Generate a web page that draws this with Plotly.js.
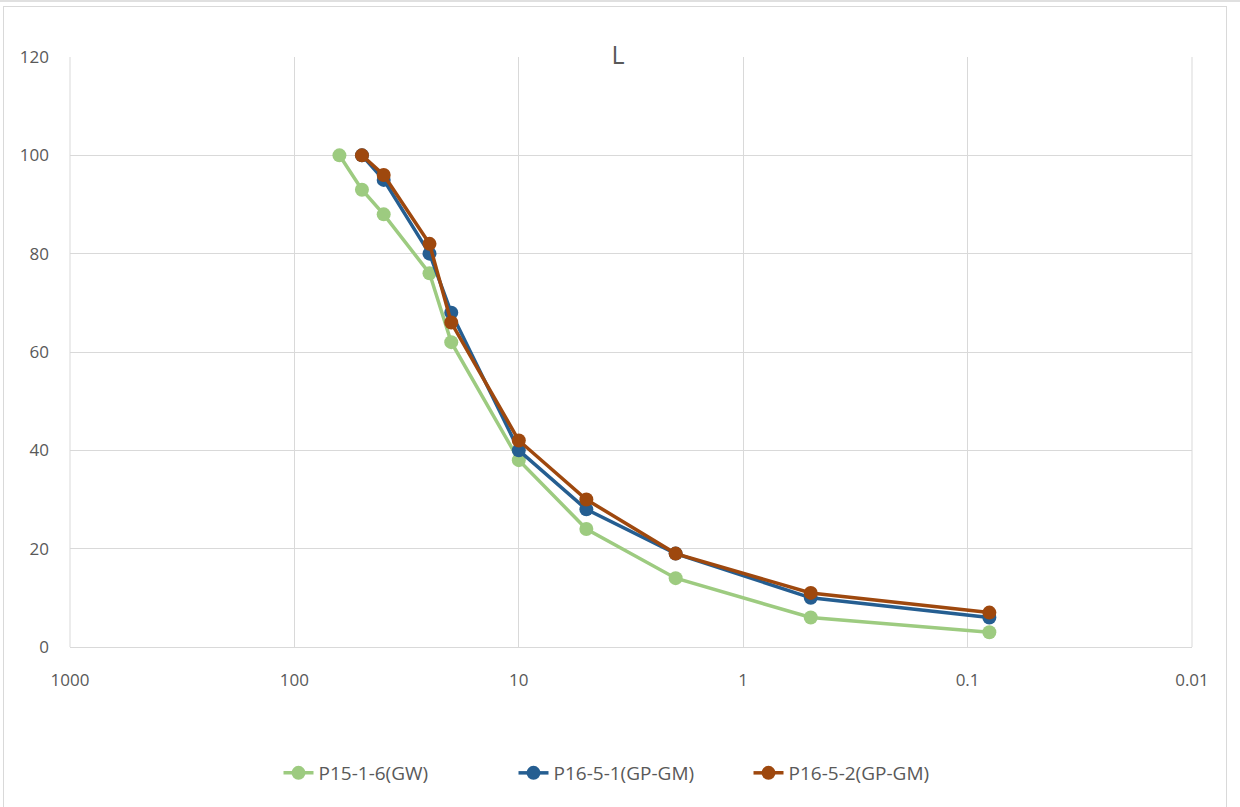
<!DOCTYPE html>
<html>
<head>
<meta charset="utf-8">
<script src="https://cdn.plot.ly/plotly-3.0.1.min.js"></script>
<style>
html,body{margin:0;padding:0;background:#fff;}
#frame{position:absolute;left:3px;top:6px;width:1224px;height:820px;border:1px solid #d9d9d9;box-sizing:border-box;}
#topbar{position:absolute;left:0;top:0;width:1240px;height:2px;background:#e0e0e0;}
#chart{position:absolute;left:0;top:0;width:1240px;height:807px;}
</style>
</head>
<body>
<div id="topbar"></div>
<div id="frame"></div>
<div id="chart"></div>
<script>
// Sieve sizes (mm) and percent passing
const sizesGW = [63, 50, 40, 25, 20, 10, 5, 2, 0.5, 0.08];
const passGW = [100, 93, 88, 76, 62, 38, 24, 14, 6, 3];
const sizesGP = [50, 40, 25, 20, 10, 5, 2, 0.5, 0.08];
const passP1651 = [100, 95, 80, 68, 40, 28, 19, 10, 6];
const passP1652 = [100, 96, 82, 66, 42, 30, 19, 11, 7];
const seriesNames = ['P15-1-6(GW)', 'P16-5-1(GP-GM)', 'P16-5-2(GP-GM)'];
const xTickVals = [1000, 100, 10, 1, 0.1, 0.01];
const xTickText = ['1000', '100', '10', '1', '0.1', '0.01'];
const yTickVals = [0, 20, 40, 60, 80, 100, 120];
const chartTitle = 'L';

const colors = ['#9DCB80', '#255E91', '#9E480E'];
function tr(x, y, name, color) {
  return {
    x: x, y: y, name: name, type: 'scatter', mode: 'lines+markers',
    line: {color: color, width: 3.5},
    marker: {color: color, size: 14}
  };
}
const data = [
  tr(sizesGW, passGW, seriesNames[0], colors[0]),
  tr(sizesGP, passP1651, seriesNames[1], colors[1]),
  tr(sizesGP, passP1652, seriesNames[2], colors[2])
];
const fontFam = 'Open Sans, Noto Sans, sans-serif';
const layout = {
  width: 1240, height: 807,
  margin: {l: 70, r: 48, t: 57, b: 160},
  paper_bgcolor: 'rgba(0,0,0,0)',
  plot_bgcolor: 'rgba(0,0,0,0)',
  font: {family: fontFam, color: '#595959', size: 17},
  title: {text: chartTitle, x: 618/1240, xref: 'container', xanchor: 'center',
          y: 1 - 55/807, yref: 'container', yanchor: 'middle',
          font: {size: 25, color: '#595959', family: fontFam}},
  xaxis: {
    type: 'log', range: [3, -2],
    tickvals: xTickVals, ticktext: xTickText,
    showgrid: true, gridcolor: '#d9d9d9', gridwidth: 1,
    showline: true, linecolor: '#d9d9d9', linewidth: 1,
    zeroline: false, ticks: '', ticklabelstandoff: 18,
    tickfont: {size: 17, color: '#595959'}
  },
  yaxis: {
    range: [0, 120], tickvals: yTickVals,
    showgrid: true, gridcolor: '#d9d9d9', gridwidth: 1,
    showline: false, zeroline: false, ticks: '', ticklabelstandoff: 20,
    tickfont: {size: 17, color: '#595959'}
  },
  shapes: [
    {type: 'line', xref: 'paper', yref: 'paper', x0: 1, x1: 1, y0: 0, y1: 1,
     line: {color: '#d9d9d9', width: 1}},
    {type: 'line', xref: 'paper', yref: 'paper', x0: 0, x1: 0, y0: 0, y1: 1,
     line: {color: '#d9d9d9', width: 1}}
  ],
  showlegend: true,
  legend: {orientation: 'h', x: 0.5, xanchor: 'center', y: (647 - 773) / 590, yanchor: 'middle',
           font: {size: 19, color: '#595959'}, entrywidth: 190, entrywidthmode: 'pixels',
           traceorder: 'normal'}
};
Plotly.newPlot('chart', data, layout, {displayModeBar: false, staticPlot: true});
</script>
</body>
</html>
